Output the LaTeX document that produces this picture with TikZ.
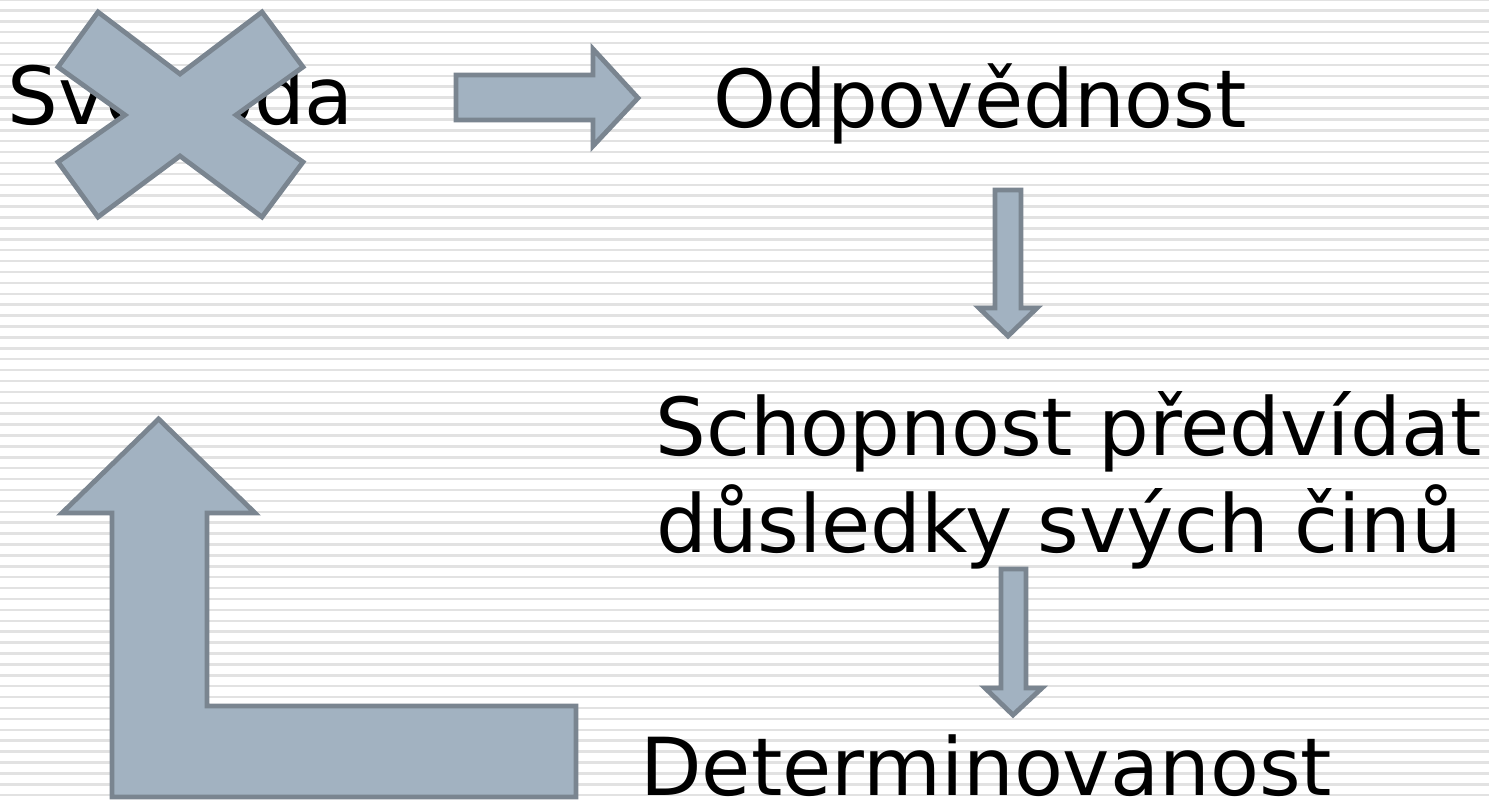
\documentclass[tikz,border=0pt]{standalone}
\usepackage{fontspec}
\setmainfont{DejaVu Sans}
\definecolor{afill}{RGB}{162,178,193}
\definecolor{aline}{RGB}{122,133,144}
\definecolor{stripe}{RGB}{226,226,226}
\begin{document}
\begin{tikzpicture}[x=0.75pt,y=-0.75pt,
  blockarrow/.style={fill=afill,draw=aline,line width=3.6pt,line join=miter},
  lbl/.style={inner sep=0pt,anchor=base west,font=\fontsize{60}{72}\selectfont}]
\useasboundingbox (0,0) rectangle (1489,802);
\fill[white] (0,0) rectangle (1489,802);
\foreach \k in {0,...,74} \draw[stripe,line width=1.9pt] (0,{10.9*\k-0.5}) -- (1489,{10.9*\k-0.5});
% texts
\node[lbl] (svoboda) at (7,125) {Svoboda};
\node[lbl] (odp) at (713,128) {Odpovědnost};
\node[lbl] (sch1) at (655,455) {Schopnost předvídat};
\node[lbl] (sch2) at (656,552) {důsledky svých činů};
\node[lbl] (det) at (640,795) {Determinovanost};
% cross over Svoboda
\draw[blockarrow] (98,12) -- (180,74) -- (262,12) -- (303,67) -- (236,115) -- (303,162) -- (262,217) -- (180,156) -- (98,217) -- (58,162) -- (125,115) -- (58,67) -- cycle;
% right arrow
\draw[blockarrow] (456,75) -- (593,75) -- (593,49) -- (638,98) -- (593,146) -- (593,120) -- (456,120) -- cycle;
% down arrows
\draw[blockarrow] (995,190) -- (1021,190) -- (1021,308) -- (1037,308) -- (1008,336) -- (979,308) -- (995,308) -- cycle;
\draw[blockarrow] (1001,569) -- (1026,569) -- (1026,688) -- (1042,688) -- (1013,715) -- (985,688) -- (1001,688) -- cycle;
% L arrow
\draw[blockarrow] (158.6,419) -- (255,513) -- (207,513) -- (207,706) -- (576,706) -- (576,797) -- (112,797) -- (112,513) -- (62,513) -- cycle;
\end{tikzpicture}
\end{document}
